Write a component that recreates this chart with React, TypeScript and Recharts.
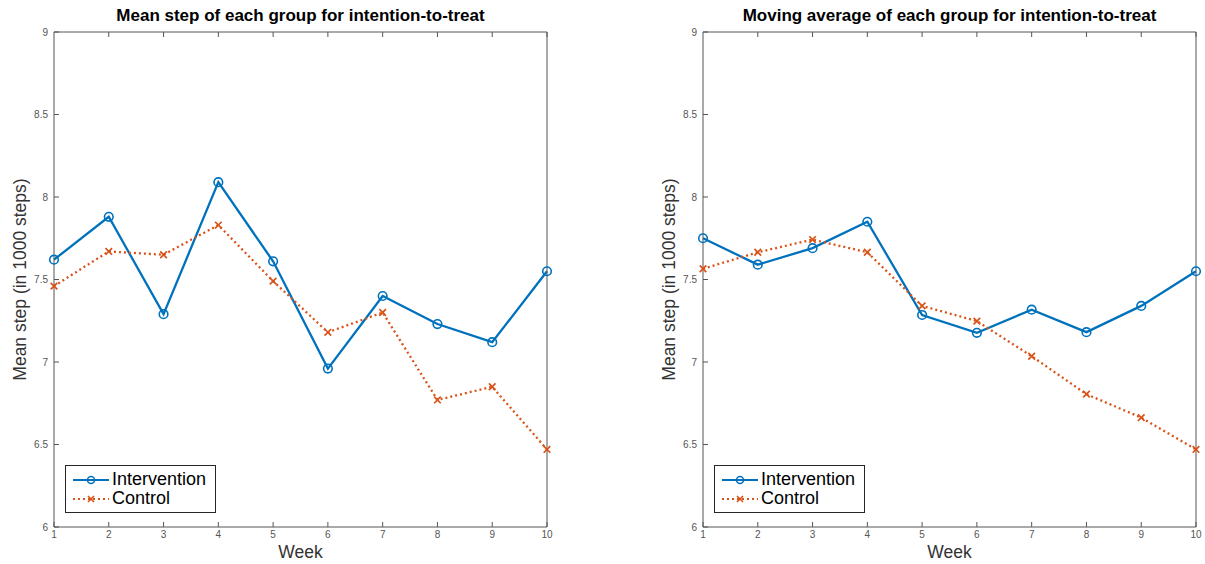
import { LineChart, Line, XAxis, YAxis, Legend, Label } from 'recharts'

const weeks = [1, 2, 3, 4, 5, 6, 7, 8, 9, 10]
const yTicks = [6, 6.5, 7, 7.5, 8, 8.5, 9]

// mean steps per week (in 1000 steps)
const meanIntervention = [7.62, 7.88, 7.29, 8.09, 7.61, 6.96, 7.40, 7.23, 7.12, 7.55]
const meanControl = [7.46, 7.67, 7.65, 7.83, 7.49, 7.18, 7.30, 6.77, 6.85, 6.47]

// moving averages
const movingIntervention = [7.75, 7.59, 7.69, 7.85, 7.285, 7.177, 7.317, 7.181, 7.34, 7.55]
const movingControl = [7.565, 7.665, 7.742, 7.665, 7.34, 7.248, 7.035, 6.805, 6.663, 6.47]

const BLUE = '#0072BD'
const ORANGE = '#D95319'
const AXIS = '#555'
const TICK = '#555'
const FONT = '"Liberation Sans", Arial, Helvetica, sans-serif'

const CHART_W = 560
const CHART_H = 564

const circleDot = (p: any) => (
  <circle key={`c-${p.index}`} cx={p.cx} cy={p.cy} r={4.3} stroke={BLUE} strokeWidth={1.6} fill="none" />
)

const crossDot = (p: any) => {
  const s = 3.3
  return (
    <path
      key={`x-${p.index}`}
      d={`M${p.cx - s},${p.cy - s}L${p.cx + s},${p.cy + s}M${p.cx - s},${p.cy + s}L${p.cx + s},${p.cy - s}`}
      stroke={ORANGE}
      strokeWidth={1.7}
      fill="none"
    />
  )
}

const yLabel = (props: any) => {
  const { viewBox } = props
  const cx = viewBox.x + 20
  const cy = viewBox.y + viewBox.height / 2
  return (
    <text x={cx} y={cy} transform={`rotate(-90 ${cx} ${cy})`} textAnchor="middle"
      dominantBaseline="central" fontSize={17.5} fill="#333" fontFamily={FONT}>
      Mean step (in 1000 steps)
    </text>
  )
}

const xLabel = (props: any) => {
  const { viewBox } = props
  return (
    <text x={viewBox.x + viewBox.width / 2} y={viewBox.y + viewBox.height + 11} textAnchor="middle"
      fontSize={17.5} fill="#333" fontFamily={FONT}>
      Week
    </text>
  )
}

const LegendBox = () => (
  <div style={{
    border: '1px solid #262626', background: '#fff', width: 149, height: 46,
    fontFamily: FONT, fontSize: 18, color: '#000', boxSizing: 'content-box',
  }}>
    {[
      { name: 'Intervention', color: BLUE, dash: undefined, marker: 'o' },
      { name: 'Control', color: ORANGE, dash: '2 3', marker: 'x' },
    ].map((it, i) => (
      <div key={i} style={{ display: 'flex', alignItems: 'center', height: 19, marginTop: i === 0 ? 4 : 0 }}>
        <svg width={44} height={12} style={{ marginLeft: 7 }}>
          <line x1={0} y1={6} x2={36} y2={6} stroke={it.color} strokeWidth={2.2} strokeDasharray={it.dash} />
          {it.marker === 'o'
            ? <circle cx={18} cy={6} r={3.5} stroke={it.color} strokeWidth={1.5} fill="none" />
            : <path d="M15,3L21,9M15,9L21,3" stroke={it.color} strokeWidth={1.6} />}
        </svg>
        <span style={{ marginLeft: -5, lineHeight: '19px' }}>{it.name}</span>
      </div>
    ))}
  </div>
)

function StepChart({ title, intervention, control, left }: {
  title: string, intervention: number[], control: number[], left: number
}) {
  const data = weeks.map((w, i) => ({ week: w, intervention: intervention[i], control: control[i] }))
  return (
    <div style={{ position: 'absolute', left, top: 0, width: CHART_W, height: CHART_H }}>
      <div style={{
        position: 'absolute', left: 54, width: 493, top: 6, textAlign: 'center',
        fontFamily: FONT, fontWeight: 'bold', fontSize: 17, lineHeight: '20px', color: '#000',
      }}>
        {title}
      </div>
      <LineChart width={CHART_W} height={CHART_H} data={data}
        margin={{ top: 31, right: 12, bottom: 17, left: 0 }}>
        <XAxis dataKey="week" type="number" domain={[1, 10]} ticks={weeks}
          tickSize={-5} tickMargin={9} height={20}
          stroke={AXIS} tick={{ fill: TICK, fontSize: 10, fontFamily: FONT }}>
          <Label content={xLabel} />
        </XAxis>
        <XAxis xAxisId="top" orientation="top" type="number" domain={[1, 10]} ticks={weeks}
          tickSize={-5} height={1} stroke={AXIS} tickFormatter={() => ''} />
        <YAxis type="number" domain={[6, 9]} ticks={yTicks} width={54}
          tickSize={-5} tickMargin={11} stroke={AXIS}
          tick={{ fill: TICK, fontSize: 10, fontFamily: FONT }}>
          <Label content={yLabel} />
        </YAxis>
        <YAxis yAxisId="right" orientation="right" type="number" domain={[6, 9]} ticks={yTicks}
          width={1} tickSize={-5} stroke={AXIS} tickFormatter={() => ''} />
        <Legend layout="vertical" align="center" verticalAlign="middle" content={<LegendBox />}
          wrapperStyle={{ left: 65, top: 465, width: 151, height: 48 }} />
        <Line type="linear" dataKey="intervention" name="Intervention" stroke={BLUE} strokeWidth={2.3}
          dot={circleDot} activeDot={false} isAnimationActive={false} />
        <Line type="linear" dataKey="control" name="Control" stroke={ORANGE} strokeWidth={2.3}
          strokeDasharray="2 3" dot={crossDot} activeDot={false} isAnimationActive={false} />
      </LineChart>
    </div>
  )
}

export default function App() {
  return (
    <div style={{ position: 'absolute', left: 0, top: 0, width: 1205, height: 564, background: '#fff' }}>
      <StepChart left={0} title="Mean step of each group for intention-to-treat"
        intervention={meanIntervention} control={meanControl} />
      <StepChart left={649} title="Moving average of each group for intention-to-treat"
        intervention={movingIntervention} control={movingControl} />
    </div>
  )
}
